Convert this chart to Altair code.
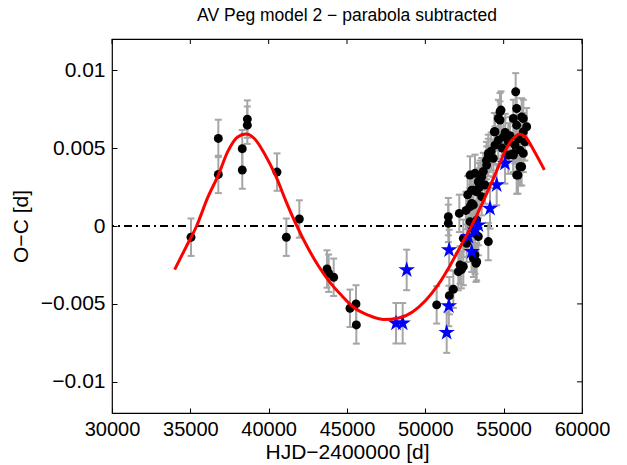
import altair as alt
import pandas as pd

# ---- data ----
dot_x = [36787, 36787, 38315, 38315, 38638, 38638, 40532, 41957, 35043, 41128,
         43723, 43830, 44149, 45191, 45574, 45596, 50723,
         51468, 51468, 51532, 51787, 52170, 52106, 52213, 52426, 52300,
         53170, 53277, 54021, 52851, 53064, 52957, 53277, 53596, 52851, 53170,
         53596, 53383, 53809, 53915, 54021, 54340, 54404, 54660, 54979, 55298,
         55723, 56043, 56255, 55298, 55617, 56149, 55830, 54660, 54830, 55766,
         55830, 55617, 56149, 56468, 55830, 56255, 54447, 53234, 53064, 52851,
         53064, 52426, 52638, 53170, 53383, 53277, 54766, 54766, 54447, 56255,
         54021, 52957, 53064, 55915, 56043, 55617, 53500, 53700, 53900, 52600,
         55100, 55400, 56350, 55950, 54900, 54200, 52700, 53450]
dot_y = [0.00562, 0.00331, 0.00496, 0.00359, 0.00686, 0.00647, 0.00346, 0.00045, -0.00072, -0.00072,
         -0.00276, -0.00303, -0.00329, -0.00528, -0.00500, -0.00635, -0.00506,
         0.00060, 0.00017, -0.00447, -0.00406, 0.00081, -0.00293, -0.00250, -0.00260, -0.00280,
         -0.00186, -0.00229, -0.00100, 0.00028, -0.00015, 0.00145, 0.00220, 0.00188, 0.00327, 0.00338,
         0.00316, 0.00284, 0.00263, 0.00391, 0.00466, 0.00434, 0.00605, 0.00551, 0.00572, 0.00540,
         0.00519, 0.00487, 0.00466, 0.00455, 0.00466, 0.00380, 0.00327, 0.00690, 0.00744, 0.00861,
         0.00754, 0.00690, 0.00700, 0.00637, 0.00647, 0.00605, 0.00519, -0.00239, -0.00207, 0.00124,
         0.00135, -0.00079, -0.00111, -0.00047, -0.00068, 0.00038, 0.00733, 0.00680, 0.00605, 0.00690,
         0.00440, 0.00230, 0.00230, 0.00327, 0.00380, 0.00455, 0.00300, 0.00350, 0.00420, 0.00100,
         0.00600, 0.00580, 0.00540, 0.00560, 0.00500, 0.00480, 0.00200, 0.00250]
dot_err = [0.0012] * len(dot_x)

star_x = [48128, 48553, 48809, 51520, 51500, 51362, 52957, 52745, 53383, 54128, 54554, 55085, 53170]
star_y = [-0.00624, -0.00624, -0.00282, -0.00154, -0.00513, -0.00684, -0.00165, -0.00068,
          0.00006, 0.00113, 0.00263, 0.00402, -0.00026]
star_err = [0.0013] * len(star_x)

curve_x = [34000, 34700, 35400, 36100, 36800, 37400, 38000, 38550, 39100, 39700, 40500,
           41100, 41800, 42500, 43200, 43900, 44600, 45400, 46300, 47300, 48300, 49200,
           50000, 50800, 51600, 52300, 53000, 53700, 54450, 55300, 55700, 56000, 56400,
           56900, 57600]
curve_y = [-0.0028, -0.0014, 0.0000, 0.0018, 0.0033, 0.0048, 0.0057, 0.0059, 0.0056,
           0.0047, 0.0031, 0.0016, 0.0000, -0.0014, -0.0026, -0.0036, -0.0044, -0.0052,
           -0.0057, -0.0060, -0.0059, -0.0055, -0.0048, -0.0038, -0.0025, -0.0012, 0.0001,
           0.0016, 0.0033, 0.0052, 0.0057, 0.0059, 0.0057, 0.0049, 0.0036]

x_ticks = [30000, 35000, 40000, 45000, 50000, 55000, 60000]
y_ticks = [-0.01, -0.005, 0, 0.005, 0.01]

W, H = 470, 374
STAR = ("M0,-1L0.2245,-0.309L0.951,-0.309L0.363,0.118L0.588,0.809L0,0.382"
        "L-0.588,0.809L-0.363,0.118L-0.951,-0.309L-0.2245,-0.309Z")

dots = pd.DataFrame({"x": dot_x, "y": dot_y, "err": dot_err})
stars = pd.DataFrame({"x": star_x, "y": star_y, "err": star_err})
allpts = pd.concat([dots, stars], ignore_index=True)
allpts["lo"] = allpts["y"] - allpts["err"]
allpts["hi"] = allpts["y"] + allpts["err"]
caps = pd.concat([
    pd.DataFrame({"x": allpts["x"], "y": allpts["lo"]}),
    pd.DataFrame({"x": allpts["x"], "y": allpts["hi"]}),
], ignore_index=True)
curve = pd.DataFrame({"x": curve_x, "y": curve_y})
xt = pd.DataFrame({"x": x_ticks})
yt = pd.DataFrame({"y": y_ticks})

FONT = "Liberation Sans"
xs = alt.Scale(domain=[30000, 60000], nice=False, zero=False)
ys = alt.Scale(domain=[-0.012, 0.012], nice=False, zero=False)

ax_x = alt.Axis(orient="bottom", values=x_ticks, format="d", domain=False, grid=False,
                tickSize=5, offset=-5, tickColor="black", labelPadding=6,
                labelFlush=False, labelOverlap=False,
                labelFont=FONT, labelFontSize=20, labelColor="black",
                title="HJD−2400000 [d]", titleFont=FONT, titleFontSize=21,
                titleFontWeight="normal", titleColor="black", titlePadding=2)
ax_y = alt.Axis(orient="left", values=y_ticks, format="~g", domain=False, grid=False,
                tickSize=5, offset=-5, tickColor="black", labelPadding=7,
                labelFlush=False, labelOverlap=False,
                labelFont=FONT, labelFontSize=21, labelColor="black",
                title="O−C [d]", titleFont=FONT, titleFontSize=21,
                titleFontWeight="normal", titleColor="black", titlePadding=9)


def X(f):
    return alt.X(f, type="quantitative", scale=xs, axis=ax_x)


def Y(f):
    return alt.Y(f, type="quantitative", scale=ys, axis=ax_y)


zero = alt.Chart(curve).mark_rule(color="black", strokeWidth=1.3, strokeDash=[8, 4, 2, 4]).encode(
    y=alt.datum(0, type="quantitative", scale=ys, axis=ax_y))

top_ticks = alt.Chart(xt).mark_rule(color="black", strokeWidth=1).encode(
    x=X("x"), y=alt.value(0), y2=alt.value(5))
right_ticks = alt.Chart(yt).mark_rule(color="black", strokeWidth=1).encode(
    y=Y("y"), x=alt.value(W), x2=alt.value(W - 5))

bars = alt.Chart(allpts).mark_rule(color="#a6a6a6", strokeWidth=2).encode(
    x=X("x"), y=Y("lo"), y2="hi:Q")

capm = alt.Chart(caps).mark_rule(color="#a6a6a6", strokeWidth=2, xOffset=-3.5, x2Offset=3.5).encode(
    x=X("x"), x2="x:Q", y=Y("y"))

dotm = alt.Chart(dots).mark_circle(color="black", size=80, opacity=1).encode(
    x=X("x"), y=Y("y"))

starm = alt.Chart(stars).mark_point(shape=STAR, filled=True, color="#0000ff", size=300, opacity=1).encode(
    x=X("x"), y=Y("y"))

line = alt.Chart(curve).mark_line(color="#ff0000", strokeWidth=3, interpolate="monotone").encode(
    x=X("x"), y=Y("y"))

chart = alt.layer(zero, top_ticks, right_ticks, bars, capm, dotm, starm, line).properties(
    width=W, height=H,
    autosize="none",
    padding={"left": 112, "top": 39, "right": 45, "bottom": 52},
    title=alt.TitleParams("AV Peg model 2 − parabola subtracted", font=FONT, fontSize=17.5,
                          fontWeight="normal", color="black", anchor="middle", offset=14),
    background="white",
).configure_view(stroke="black", strokeWidth=1.2)

chart.save("out.html", embed_options={"renderer": "svg", "actions": False})
